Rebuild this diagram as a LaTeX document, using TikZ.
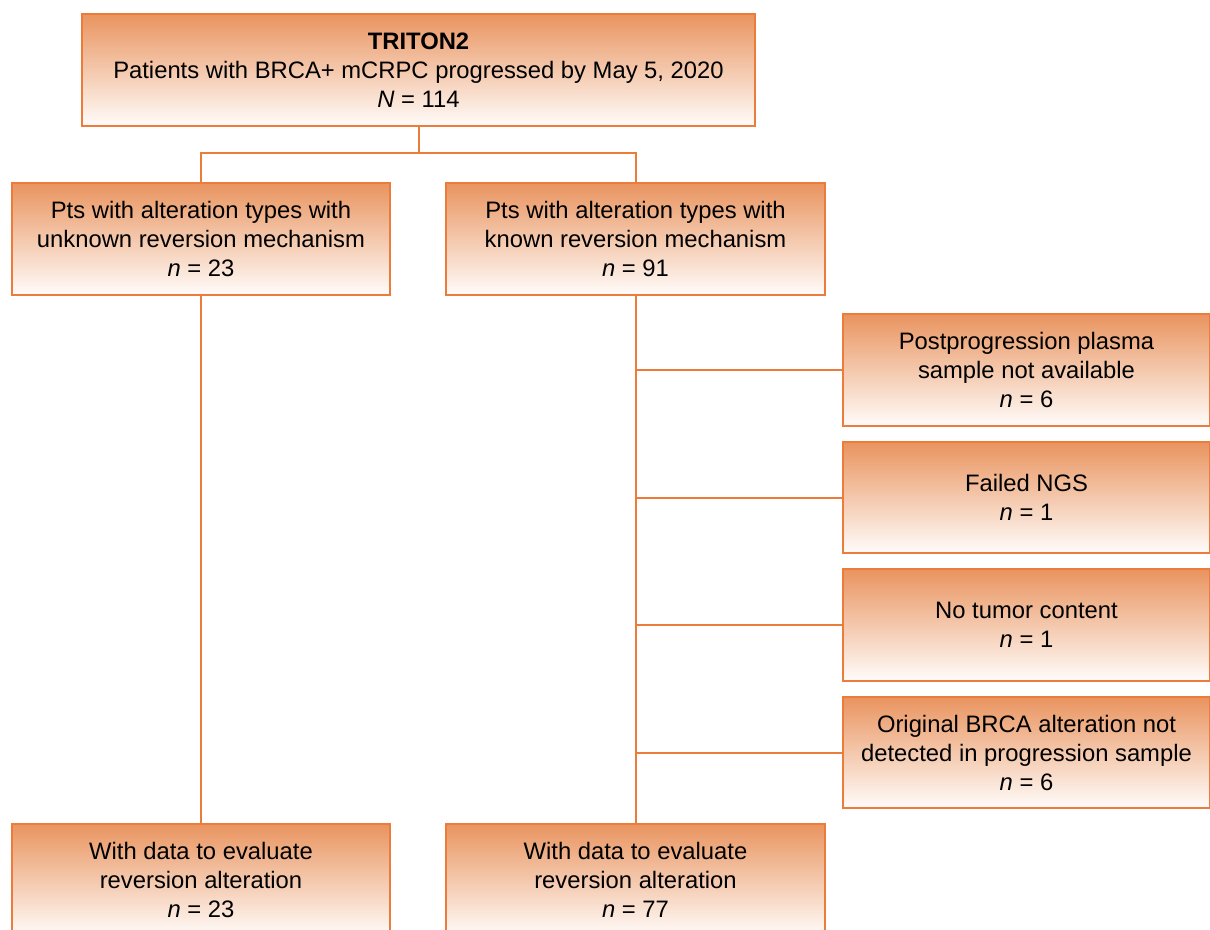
\documentclass[tikz,border=0pt]{standalone}
\usepackage{fontspec}
\setmainfont{Liberation Sans}
\definecolor{boxline}{RGB}{236,124,60}
\definecolor{boxtop}{RGB}{233,148,95}
\definecolor{boxbot}{RGB}{255,252,250}
\begin{document}
\begin{tikzpicture}[x=1pt,y=-1pt,
  fbox/.style={draw=boxline, line width=1.4pt, top color=boxtop, bottom color=boxbot,
    align=center, inner sep=0pt, font=\fontsize{23.8}{29}\selectfont},
  conn/.style={draw=boxline, line width=2pt}]
\useasboundingbox (0,0) rectangle (1210,929);
\clip (0,0) rectangle (1210,929);
\node[fbox, minimum width=673pt, minimum height=112pt] (top) at (418.5,70)
  {\textbf{TRITON2}\\Patients with BRCA+ mCRPC progressed by May 5, 2020\\\textit{N} = 114};
\node[fbox, minimum width=378pt, minimum height=112pt] (lm) at (201,239)
  {Pts with alteration types with\\unknown reversion mechanism\\\textit{n} = 23};
\node[fbox, minimum width=379pt, minimum height=112pt] (rm) at (635.5,239)
  {Pts with alteration types with\\known reversion mechanism\\\textit{n} = 91};
\node[fbox, minimum width=367pt, minimum height=112pt] (r1) at (1026.5,370)
  {Postprogression plasma\\sample not available\\\textit{n} = 6};
\node[fbox, minimum width=367pt, minimum height=111pt] (r2) at (1026.5,497.5)
  {Failed NGS\\\textit{n} = 1};
\node[fbox, minimum width=367pt, minimum height=112pt] (r3) at (1026.5,625)
  {No tumor content\\\textit{n} = 1};
\node[fbox, minimum width=367pt, minimum height=111pt] (r4) at (1026.5,752.5)
  {Original BRCA alteration not\\detected in progression sample\\\textit{n} = 6};
\node[fbox, minimum width=378pt, minimum height=112pt] (bl) at (201,880)
  {With data to evaluate\\reversion alteration\\\textit{n} = 23};
\node[fbox, minimum width=379pt, minimum height=112pt] (br) at (635.5,880)
  {With data to evaluate\\reversion alteration\\\textit{n} = 77};
\draw[conn] (top.south) -- ++(0,26) coordinate (j);
\draw[conn] (lm.north) |- (j) -| (rm.north);
\draw[conn] (lm.south) -- (bl.north);
\draw[conn] (rm.south) -- (br.north);
\foreach \b in {r1,r2,r3,r4} \draw[conn] (\b.west) -- (rm.south |- \b.west);
\end{tikzpicture}
\end{document}
